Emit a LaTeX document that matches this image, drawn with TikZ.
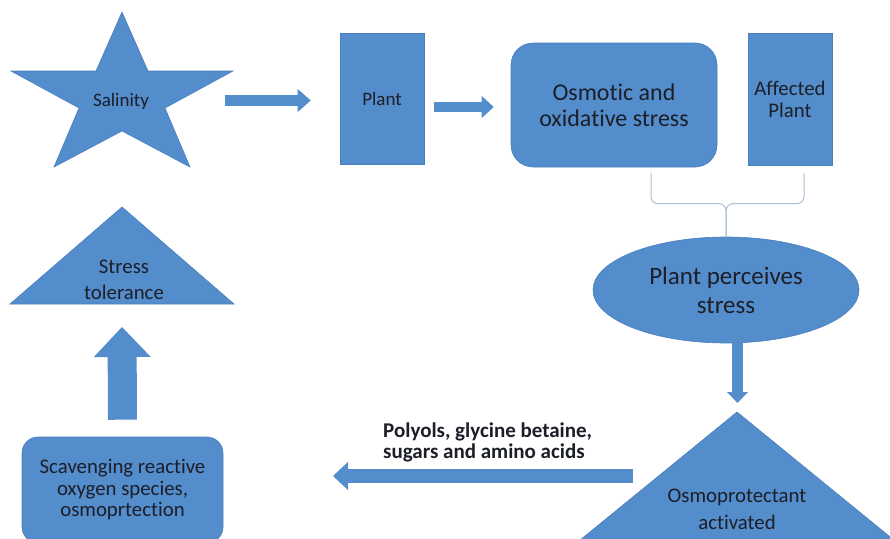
\documentclass[tikz,border=0pt]{standalone}
\usepackage{fontspec}
\setmainfont{Carlito}[Ligatures=NoCommon]
\usetikzlibrary{calc,arrows.meta,shapes.geometric}
\definecolor{boxblue}{RGB}{84,141,203}
\definecolor{boxedge}{RGB}{74,128,188}
\definecolor{bracegray}{RGB}{170,192,215}
\definecolor{inktext}{RGB}{28,30,40}
\def\txtsize#1#2{\fontsize{#1}{#2}\selectfont}

\tikzset{
  shapefill/.style={fill=boxblue, draw=boxedge, line width=0.6pt},
  labeltext/.style={text=inktext, align=center, inner sep=0pt},
  blockarrow/.style n args={3}{draw=boxblue, line width=#1pt, line cap=butt,
    -{Triangle[width=#2pt, length=#3pt, line width=0pt]}},
}

\begin{document}
\begin{tikzpicture}[x=1pt, y=-1pt]
		%%%%% START %%%%%
		\useasboundingbox (0,0) rectangle (890,538);
		\clip (0,0) rectangle (890,538);
		
		% salinity star
		\draw[shapefill] (122,12) -- (148,71) -- (233,71) -- (165,108) -- (190,167) -- (122,131) -- (54,167) -- (79,108) -- (11,71) -- (96,71) -- cycle;
		\node[labeltext, font=\txtsize{19}{23}] (salinity) at (121,101) {Salinity};
		\coordinate (salinity-tail) at (225,100.5);
		
		% top row of boxes
		\node[shapefill, labeltext, minimum width=84pt, minimum height=131pt, font=\txtsize{19}{23}] (plant) at (382,98.5) {Plant};
		\node[shapefill, labeltext, rounded corners=22pt, minimum width=206pt, minimum height=124pt, font=\txtsize{24}{26}] (osmotic) at (614,105) {Osmotic and\\oxidative stress};
		\node[shapefill, labeltext, minimum width=84pt, minimum height=132pt, font=\txtsize{20.8}{22}] (affected) at (790,99) {Affected\\Plant};
		
		\draw[blockarrow={11}{23}{13}] (salinity-tail) -- ($(plant.west)+(-29,2)$);
		\draw[blockarrow={10}{22}{12}] ($(plant.east)+(10,8.5)$) -- ($(osmotic.west)+(-17,2)$);
		
		% perception
		\node[shapefill, labeltext, ellipse, minimum width=266pt, minimum height=106pt, font=\txtsize{25}{29}] (perceive) at (726,290) {Plant perceives\\stress};
		
		\coordinate (brace-left) at (651,173);
		\coordinate (brace-right) at (804,173);
		\coordinate (brace-mid) at ($(perceive.north)+(0,-33)$);
		\draw[bracegray, line width=1pt, rounded corners=7pt] (brace-left) -- (brace-left |- brace-mid) -- (brace-mid) -- (perceive.north);
		\draw[bracegray, line width=1pt, rounded corners=7pt] (brace-right) -- (brace-right |- brace-mid) -- (brace-mid) -- (perceive.north);
		
		% osmoprotectant triangle
		\coordinate (osmo-top) at (737,412);
		\draw[shapefill] (osmo-top) -- (900,545) -- (574,545) -- cycle;
		\node[labeltext, font=\txtsize{20.8}{27}] (osmo) at (737,509) {Osmoprotectant\\activated};
		
		\draw[blockarrow={11}{21}{11}] ($(perceive.south)+(11.5,0)$) -- ($(osmo-top)+(0.5,-9)$);
		
		% compounds
		\coordinate (polyols-tail) at (633,476);
		\coordinate (polyols-tip) at (333,476);
		\draw[blockarrow={14}{28}{15}] (polyols-tail) -- (polyols-tip);
		\node[labeltext, align=left, anchor=west, font=\bfseries\txtsize{21}{21}] (polyols) at (383,442.5) {Polyols, glycine betaine,\\sugars and amino acids};
		
		% scavenging and tolerance
		\node[shapefill, labeltext, rounded corners=16pt, minimum width=201pt, minimum height=106pt, font=\txtsize{20.8}{21.5}] (scavenge) at (122.5,490) {Scavenging reactive\\oxygen species,\\osmoprtection};
		
		\coordinate (tolerance-base) at (122,304);
		\draw[shapefill] (122,207) -- (234,304) -- (10,304) -- cycle;
		\node[labeltext, font=\txtsize{20.8}{26}] (tolerance) at (124,280) {Stress\\tolerance};
		
		\draw[blockarrow={29}{57}{30}] ($(scavenge.north)+(0,-17)$) -- ($(tolerance-base)+(0,23)$);
		
		%%%%% END %%%%%
	\end{tikzpicture}
\end{document}
